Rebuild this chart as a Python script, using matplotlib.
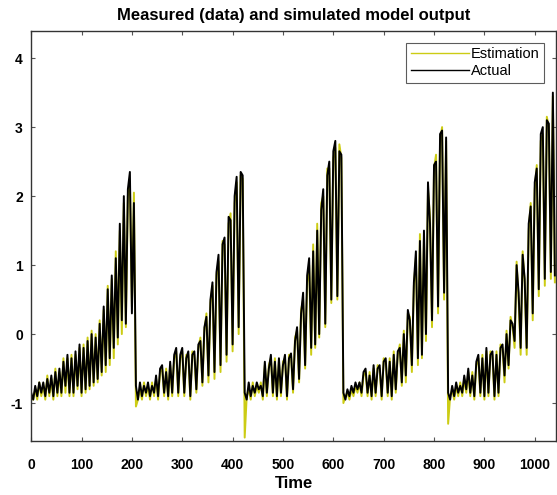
import numpy as np
import matplotlib
matplotlib.use("Agg")
import matplotlib.pyplot as plt

# sample times (every 4th step of the record)
time = np.arange(0, 1041, 4)

# measured output
actual = [
    # cycle 1
    -0.85, -0.95, -0.75, -0.9, -0.7, -0.85, -0.7, -0.9, -0.65, -0.85,
    -0.6, -0.9, -0.55, -0.85, -0.5, -0.85, -0.4, -0.75, -0.3, -0.85,
    -0.35, -0.85, -0.25, -0.75, -0.15, -0.85, -0.2, -0.8, -0.1, -0.75,
    0.0, -0.7, -0.05, -0.65, 0.15, -0.55, 0.4, -0.45, 0.65, -0.35,
    0.85, -0.2, 1.1, -0.05, 1.6, 0.2, 2.0, 0.15, 2.1, 2.35,
    0.3, 1.9,
    # cycle 2
    -0.75, -0.95, -0.7, -0.9, -0.75, -0.85, -0.7, -0.9, -0.75, -0.85,
    -0.6, -0.9, -0.5, -0.45, -0.85, -0.55, -0.9, -0.4, -0.85, -0.3,
    -0.2, -0.85, -0.3, -0.2, -0.85, -0.35, -0.25, -0.9, -0.3, -0.25,
    -0.8, -0.15, -0.1, -0.7, 0.1, 0.25, -0.6, 0.5, 0.75, -0.55,
    0.9, 1.15, -0.45, 1.3, 1.4, -0.3, 1.7, 1.65, -0.15, 2.0,
    2.28, 0.1, 2.35, 2.3,
    # cycle 3
    -0.85, -0.95, -0.7, -0.9, -0.75, -0.85, -0.7, -0.8, -0.75, -0.9,
    -0.4, -0.85, -0.5, -0.3, -0.85, -0.4, -0.9, -0.35, -0.85, -0.45,
    -0.3, -0.9, -0.35, -0.28, -0.8, -0.1, 0.1, -0.65, 0.3, 0.6,
    -0.45, 0.85, 1.1, -0.2, 1.2, -0.15, 1.5, 0.0, 1.8, 2.1,
    0.15, 2.3, 2.5, 0.5, 2.65, 2.8, 0.55, 2.65, 2.6,
    # cycle 4
    -0.85, -0.95, -0.8, -0.9, -0.75, -0.85, -0.7, -0.8, -0.7, -0.85,
    -0.55, -0.5, -0.85, -0.6, -0.9, -0.45, -0.85, -0.5, -0.45, -0.9,
    -0.4, -0.35, -0.85, -0.4, -0.9, -0.3, -0.8, -0.25, -0.2, -0.7,
    0.0, -0.6, 0.35, 0.2, -0.45, 0.75, 1.2, -0.35, 1.35, -0.3,
    1.5, 0.0, 2.2, 1.6, 0.2, 2.45, 2.5, 0.4, 2.9, 2.95,
    0.6, 2.85,
    # cycle 5
    -0.85, -0.95, -0.75, -0.9, -0.7, -0.85, -0.75, -0.85, -0.6, -0.8,
    -0.5, -0.85, -0.6, -0.9, -0.4, -0.3, -0.85, -0.35, -0.9, -0.2,
    -0.85, -0.3, -0.25, -0.9, -0.3, -0.85, -0.2, -0.15, -0.6, 0.0,
    -0.45, 0.2, 0.15, -0.1, 1.0, 0.6, -0.2, 1.15, 0.8, -0.2,
    1.6, 1.85, 0.3, 2.2, 2.4, 0.65, 2.9, 3.0, 0.8, 3.1,
    3.05, 0.9, 3.5, 0.85,
]

# simulated model output
estimation = [
    # cycle 1
    -0.9, -0.95, -0.8, -0.95, -0.7, -0.9, -0.75, -0.95, -0.6, -0.9,
    -0.65, -0.95, -0.5, -0.9, -0.55, -0.9, -0.35, -0.85, -0.35, -0.9,
    -0.3, -0.9, -0.3, -0.8, -0.2, -0.9, -0.15, -0.85, -0.05, -0.8,
    0.05, -0.75, 0.0, -0.7, 0.2, -0.6, 0.35, -0.55, 0.7, -0.45,
    0.8, -0.35, 1.2, -0.15, 1.5, 0.0, 1.9, 0.1, 2.0, 2.2,
    0.4, 2.05,
    # cycle 2
    -1.05, -0.95, -0.8, -0.95, -0.7, -0.9, -0.75, -0.95, -0.7, -0.9,
    -0.65, -0.95, -0.55, -0.5, -0.9, -0.5, -0.95, -0.45, -0.9, -0.35,
    -0.25, -0.9, -0.35, -0.25, -0.9, -0.3, -0.3, -0.95, -0.25, -0.3,
    -0.85, -0.2, -0.05, -0.75, 0.05, 0.3, -0.7, 0.45, 0.7, -0.65,
    0.85, 1.05, -0.55, 1.35, 1.3, -0.4, 1.6, 1.75, -0.25, 1.9,
    2.2, 0.0, 2.3, 2.25,
    # cycle 3
    -1.5, -0.9, -0.8, -0.95, -0.7, -0.9, -0.75, -0.85, -0.7, -0.95,
    -0.45, -0.9, -0.45, -0.35, -0.9, -0.35, -0.95, -0.4, -0.9, -0.4,
    -0.35, -0.95, -0.3, -0.3, -0.85, -0.05, 0.05, -0.7, 0.35, 0.5,
    -0.5, 0.75, 1.0, -0.3, 1.3, -0.2, 1.6, -0.05, 1.9, 2.0,
    0.1, 2.4, 2.4, 0.45, 2.55, 2.7, 0.5, 2.75, 2.55,
    # cycle 4
    -1.0, -0.9, -0.85, -0.95, -0.8, -0.9, -0.75, -0.85, -0.7, -0.9,
    -0.6, -0.55, -0.9, -0.55, -0.95, -0.5, -0.9, -0.45, -0.5, -0.95,
    -0.35, -0.4, -0.9, -0.35, -0.95, -0.25, -0.85, -0.3, -0.15, -0.75,
    0.05, -0.7, 0.3, 0.25, -0.55, 0.7, 1.1, -0.45, 1.45, -0.35,
    1.4, -0.1, 2.1, 1.7, 0.1, 2.4, 2.6, 0.3, 2.8, 3.0,
    0.5, 2.8,
    # cycle 5
    -1.3, -0.9, -0.8, -0.95, -0.75, -0.9, -0.7, -0.9, -0.65, -0.85,
    -0.55, -0.9, -0.55, -0.95, -0.45, -0.35, -0.9, -0.3, -0.95, -0.25,
    -0.9, -0.25, -0.3, -0.95, -0.25, -0.9, -0.15, -0.2, -0.7, 0.05,
    -0.5, 0.25, 0.1, -0.2, 1.05, 0.5, -0.3, 1.2, 0.75, -0.3,
    1.5, 1.9, 0.2, 2.1, 2.45, 0.55, 2.8, 2.9, 0.7, 3.15,
    3.0, 0.8, 3.45, 0.75,
]

x_ticks = [0, 100, 200, 300, 400, 500, 600, 700, 800, 900, 1000]
y_ticks = [-1, 0, 1, 2, 3, 4]

plt.rcParams['font.family'] = ['Liberation Sans', 'DejaVu Sans']
plt.rcParams['axes.unicode_minus'] = False

fig = plt.figure(figsize=(5.57, 4.95), dpi=100)
ax = fig.add_axes([0.056, 0.109, 0.942, 0.828])

ax.plot(time, estimation, color='#cccc14', linewidth=1.4, label='Estimation')
ax.plot(time, actual, color='black', linewidth=1.4, label='Actual')

ax.set_xlim(0, 1042)
ax.set_ylim(-1.55, 4.39)
ax.set_xticks(x_ticks)
ax.set_yticks(y_ticks)
ax.tick_params(direction='in', top=True, right=True, length=3, width=0.8,
               color='#555555', labelsize=10)
ax.tick_params(axis='x', pad=12)
ax.tick_params(axis='y', pad=6)
for lbl in ax.get_xticklabels() + ax.get_yticklabels():
    lbl.set_fontweight('bold')
for sp in ax.spines.values():
    sp.set_color('#333333')
    sp.set_linewidth(1.0)

ax.set_title('Measured (data) and simulated model output', fontsize=12,
             fontweight='bold', pad=8)
ax.set_xlabel('Time', fontsize=12, fontweight='bold', labelpad=3)

leg = ax.legend(loc='upper right', fontsize=10.5, handlelength=4.0,
                frameon=True, fancybox=False, edgecolor='#333333',
                borderaxespad=0.8, borderpad=0.3, labelspacing=0.2,
                handletextpad=0.15)
leg.get_frame().set_linewidth(0.8)
for h in leg.get_lines():
    h.set_linewidth(1.0)

fig.savefig('out.png', dpi=100)
